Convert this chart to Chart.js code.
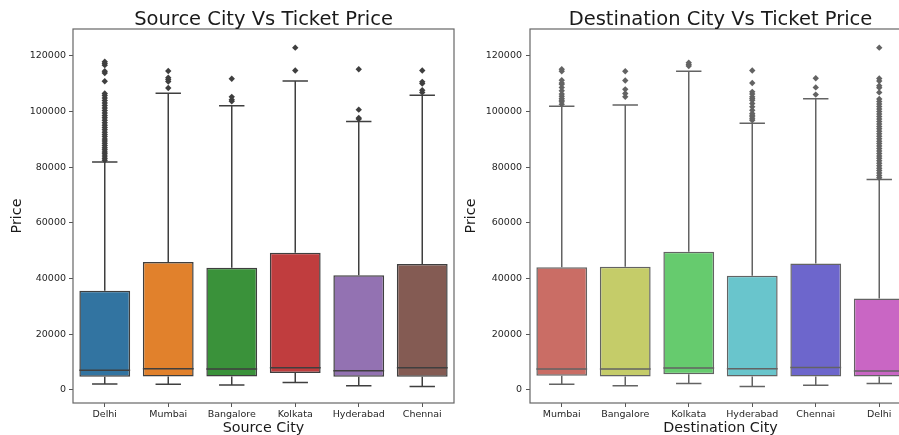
<!DOCTYPE html>
<html>
<head>
<meta charset="utf-8">
<script src="https://cdn.jsdelivr.net/npm/chart.js@4.4.1/dist/chart.umd.min.js"></script>
<style>
  html, body { margin: 0; padding: 0; background: #fff; overflow: hidden; }
  #wrap { position: relative; width: 899px; height: 435px; overflow: hidden; }
  canvas { position: absolute; top: 0; }
</style>
</head>
<body>
<div id="wrap">
  <canvas id="srcChart" width="460" height="435" style="left:0"></canvas>
  <canvas id="dstChart" width="460" height="435" style="left:457px"></canvas>
</div>
<script>
// tick values shared by both panels
const priceTicks = [0, 20000, 40000, 60000, 80000, 100000, 120000];

// Source city box plot
const srcCities = ['Delhi', 'Mumbai', 'Bangalore', 'Kolkata', 'Hyderabad', 'Chennai'];
const srcLow = [2000, 1900, 1700, 2600, 1400, 1100];
const srcQ1 = [4600, 4700, 4700, 6000, 4600, 4600];
const srcMedian = [7000, 7500, 7400, 7900, 6800, 7900];
const srcQ3 = [35600, 45900, 43800, 49200, 41100, 45200];
const srcHigh = [81900, 106600, 102100, 111000, 96400, 105900];
const srcOutliers = [
    [82500, 83200, 84000, 84800, 85500, 86300, 87000, 87800, 88600, 89400, 90100, 91000,
     91800, 92600, 93500, 94300, 95100, 96000, 96900, 97800, 98600, 99500, 100400, 101300,
     102200, 103100, 104000, 104900, 105800, 106500, 110900, 113900, 114500, 116700, 117300, 117900],
    [108500, 110800, 111500, 112200, 114600],
    [103700, 104300, 105300, 111800],
    [114800, 123000],
    [97300, 97700, 100700, 115200],
    [106900, 107700, 110100, 110700, 114800]
];
const srcColors = ['#3274a1', '#e1812c', '#3a923a', '#c03d3e', '#9372b2', '#845b53'];

// Destination city box plot
const dstCities = ['Mumbai', 'Bangalore', 'Kolkata', 'Hyderabad', 'Chennai', 'Delhi'];
const dstLow = [1900, 1400, 2200, 1100, 1600, 2200];
const dstQ1 = [5000, 4700, 5500, 4700, 4700, 4700];
const dstMedian = [7400, 7400, 7800, 7500, 8000, 6700];
const dstQ3 = [44000, 44200, 49600, 41000, 45400, 32800];
const dstHigh = [101900, 102400, 114500, 95800, 104600, 75600];
const dstOutliers = [
    [102600, 103500, 104100, 104700, 105500, 106300, 107500, 108700, 109800, 110300, 111300, 114500, 115200],
    [105300, 106500, 108000, 111200, 114500],
    [116400, 116900, 117600],
    [96900, 97400, 98100, 98700, 99300, 100500, 101700, 102900, 104100, 104700, 105300, 106300,
     107100, 110300, 114800],
    [106100, 108700, 112000],
    [76200, 77000, 77900, 78800, 79600, 80500, 81400, 82300, 83200, 84000, 84900, 85800,
     86700, 87600, 88500, 89300, 90200, 91100, 92000, 92900, 93800, 94600, 95500, 96400,
     97300, 98200, 99100, 100000, 100900, 101800, 102700, 103600, 104500, 106900, 108600,
     109300, 111000, 111900, 123000]
];
const dstColors = ['#ca6d65', '#c5cc69', '#66cb6e', '#69c5cc', '#6d66cc', '#c966c4'];

const fontFamily = "'DejaVu Sans', sans-serif";

function makeBoxChart(id, title, xTitle, cities, low, q1, med, q3, high, outliers, colors, lineColor, opt) {
    let points = [];
    outliers.forEach(function (vals, i) {
        vals.forEach(v => points.push({x: cities[i], y: v}));
    });

    const boxPlugin = {
        id: 'boxParts',
        afterDatasetsDraw: function (chart) {
            const ctx = chart.ctx;
            const y = chart.scales.y;
            const meta = chart.getDatasetMeta(0);
            ctx.save();
            ctx.strokeStyle = lineColor;
            ctx.lineWidth = 1.5;
            meta.data.forEach(function (bar, i) {
                const half = bar.width / 2;
                ctx.beginPath();
                // median
                ctx.moveTo(bar.x - half, y.getPixelForValue(med[i]));
                ctx.lineTo(bar.x + half, y.getPixelForValue(med[i]));
                // whiskers
                ctx.moveTo(bar.x, y.getPixelForValue(q3[i]));
                ctx.lineTo(bar.x, y.getPixelForValue(high[i]));
                ctx.moveTo(bar.x, y.getPixelForValue(q1[i]));
                ctx.lineTo(bar.x, y.getPixelForValue(low[i]));
                // caps
                ctx.moveTo(bar.x - half / 2, y.getPixelForValue(high[i]));
                ctx.lineTo(bar.x + half / 2, y.getPixelForValue(high[i]));
                ctx.moveTo(bar.x - half / 2, y.getPixelForValue(low[i]));
                ctx.lineTo(bar.x + half / 2, y.getPixelForValue(low[i]));
                ctx.stroke();
            });
            ctx.restore();
        },
        afterDraw: function (chart) {
            const a = chart.chartArea;
            const ctx = chart.ctx;
            ctx.save();
            ctx.strokeStyle = '#666';
            ctx.lineWidth = 1.2;
            ctx.strokeRect(a.left, a.top, a.right - a.left, a.bottom - a.top);
            // title centred over the plot area, like matplotlib
            ctx.fillStyle = '#1a1a1a';
            ctx.font = '19.5px ' + fontFamily;
            ctx.textAlign = 'center';
            ctx.textBaseline = 'middle';
            ctx.fillText(title, (a.left + a.right) / 2, 19.5);
            ctx.restore();
        }
    };

    return new Chart(id, {
        type: 'bar',
        data: {
            labels: cities,
            datasets: [{
                data: q1.map((v, i) => [v, q3[i]]),
                backgroundColor: colors,
                borderColor: lineColor,
                borderWidth: 1.5,
                borderSkipped: false,
                barPercentage: 0.8,
                categoryPercentage: 1.0,
                order: 2
            }, {
                type: 'line',
                data: points,
                showLine: false,
                pointStyle: 'rectRot',
                pointRadius: 3.2,
                pointBackgroundColor: lineColor,
                pointBorderWidth: 0,
                order: 1
            }]
        },
        options: {
            responsive: false,
            animation: false,
            layout: {padding: {right: 6, top: 29}},
            plugins: {
                legend: {display: false},
                tooltip: {enabled: false},
                title: {display: false}
            },
            scales: {
                x: {
                    grid: {drawOnChartArea: false, offset: false, tickLength: 4, color: '#555'},
                    border: {display: false},
                    ticks: {color: '#262626', padding: 2, font: {family: fontFamily, size: 9.5}},
                    title: {
                        display: true,
                        text: xTitle,
                        color: '#1a1a1a',
                        font: {family: fontFamily, size: 14.3},
                        padding: {top: 0, bottom: -2}
                    },
                    afterFit: function (scale) { scale.height = 32; }
                },
                y: {
                    min: -4800,
                    max: 129700,
                    grid: {drawOnChartArea: false, tickLength: 4, color: '#555'},
                    border: {display: false},
                    ticks: {
                        color: '#262626',
                        padding: opt.tickPad,
                        font: {family: fontFamily, size: 9.5},
                        callback: v => String(v)
                    },
                    afterBuildTicks: function (scale) {
                        scale.ticks = priceTicks.map(v => ({value: v}));
                    },
                    title: {
                        display: true,
                        text: 'Price',
                        color: '#1a1a1a',
                        font: {family: fontFamily, size: 14.3},
                        padding: {top: opt.titlePad, bottom: 0}
                    },
                    afterFit: function (scale) { scale.width = 73; }
                }
            }
        },
        plugins: [boxPlugin]
    });
}

makeBoxChart('srcChart', 'Source City Vs Ticket Price', 'Source City',
    srcCities, srcLow, srcQ1, srcMedian, srcQ3, srcHigh, srcOutliers, srcColors, '#3f3f3f',
    {tickPad: 3, titlePad: 9});

makeBoxChart('dstChart', 'Destination City Vs Ticket Price', 'Destination City',
    dstCities, dstLow, dstQ1, dstMedian, dstQ3, dstHigh, dstOutliers, dstColors, '#636363',
    {tickPad: 4, titlePad: 6});
</script>
</body>
</html>
